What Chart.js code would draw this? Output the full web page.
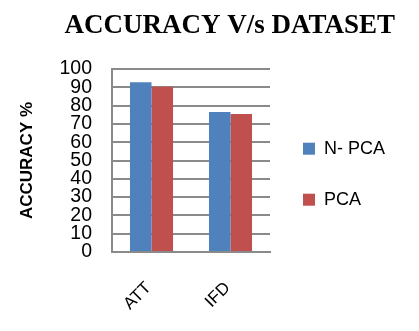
<!DOCTYPE html>
<html>
<head>
<meta charset="utf-8">
<script src="https://cdn.jsdelivr.net/npm/chart.js@4"></script>
<style>
  body { margin: 0; background: #fff; }
  #wrap { width: 419px; height: 331px; }
</style>
</head>
<body>
<div id="wrap"><canvas id="myChart"></canvas></div>
<script>
// datos
const categorias = ['ATT', 'IFD'];
const seriesNombres = ['N- PCA', 'PCA'];
const valoresNPca = [92.7, 76.5];
const valoresPca = [90.3, 75.4];
const yMin = 0;
const yMax = 100;
const yPaso = 10;

const azul = '#4F81BD';
const rojo = '#C0504D';
const gris = '#8a8a8a';

const ctx = document.getElementById('myChart');

new Chart(ctx, {
  type: 'bar',
  data: {
    labels: categorias,
    datasets: [{
      label: seriesNombres[0],
      data: valoresNPca,
      backgroundColor: azul,
      borderWidth: 0
    }, {
      label: seriesNombres[1],
      data: valoresPca,
      backgroundColor: rojo,
      borderWidth: 0
    }]
  },
  options: {
    responsive: true,
    maintainAspectRatio: false,
    animation: false,
    categoryPercentage: 0.545,
    barPercentage: 1,
    layout: { padding: { left: 0, right: 24, top: 0, bottom: 0 } },
    plugins: {
      title: {
        display: true,
        text: 'ACCURACY V/s DATASET',
        align: 'end',
        color: '#000',
        font: { family: 'Liberation Serif', size: 27, weight: 'bold' },
        padding: { top: 9.5, bottom: 27.1 }
      },
      legend: {
        position: 'right',
        maxWidth: 125,
        title: { display: true, text: '', padding: 0, font: { size: 14.5 } },
        labels: {
          color: '#000',
          boxWidth: 12,
          boxHeight: 12,
          padding: 33,
          font: { family: 'Liberation Sans', size: 18 }
        }
      },
      tooltip: { enabled: false }
    },
    scales: {
      x: {
        grid: { display: false, drawTicks: false },
        border: { display: true, color: gris, width: 2 },
        ticks: {
          color: '#000',
          minRotation: 45,
          maxRotation: 45,
          padding: 26,
          labelOffset: -3,
          font: { family: 'Liberation Sans', size: 17 }
        },
        afterFit: (scale) => { scale.height = 79; }
      },
      y: {
        min: yMin,
        max: yMax,
        grid: { color: gris, lineWidth: 2, drawTicks: false },
        border: { display: true, color: gris, width: 2 },
        ticks: {
          stepSize: yPaso,
          autoSkip: false,
          color: '#000',
          padding: 20,
          font: { family: 'Liberation Sans', size: 19.5 }
        },
        title: {
          display: true,
          text: 'ACCURACY %',
          color: '#000',
          font: { family: 'Liberation Sans', size: 17, weight: 'bold' },
          padding: { top: 17, bottom: 0 }
        },
        afterFit: (scale) => { scale.width = 112; }
      }
    }
  }
});
</script>
</body>
</html>
